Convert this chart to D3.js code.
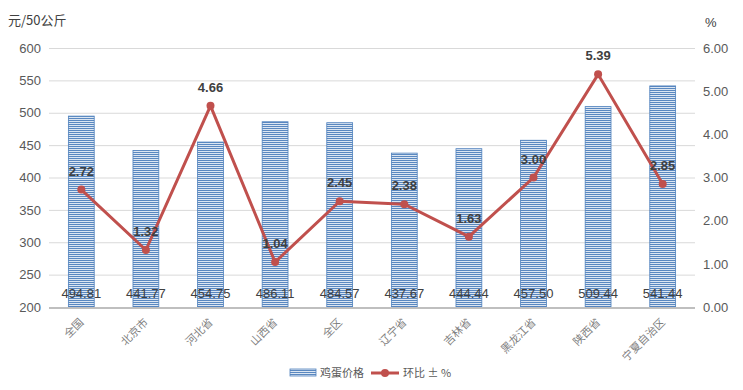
<!DOCTYPE html>
<html><head><meta charset="utf-8">
<script src="https://cdn.jsdelivr.net/npm/d3@7"></script>
<style>body{margin:0;background:#fff;font-family:"Noto Sans CJK SC","DejaVu Sans",sans-serif;}</style>
</head><body><svg id="c" width="743" height="390"></svg>
<script>
const categories = ["全国","北京市","河北省","山西省","全区","辽宁省","吉林省","黑龙江省","陕西省","宁夏自治区"];
const eggPrice = [494.81,441.77,454.75,486.11,484.57,437.67,444.44,457.50,509.44,541.44];
const momChange = [2.72,1.32,4.66,1.04,2.45,2.38,1.63,3.00,5.39,2.85];
const leftTicks = [200,250,300,350,400,450,500,550,600];
const rightTicks = [0,1,2,3,4,5,6];

const svg = d3.select("#c");
const m = {l:49, r:695, t:48, b:307};
const x = d3.scaleBand().domain(categories).range([m.l, m.r]).paddingInner(0.6).paddingOuter(0.3);
const y = d3.scaleLinear().domain([200,600]).range([m.b, m.t]);
const y2 = d3.scaleLinear().domain([0,6]).range([m.b, m.t]);
const font = "'Liberation Sans','DejaVu Sans',sans-serif";
const cjk = "'Noto Sans CJK SC',sans-serif";

const defs = svg.append("defs");
const pat = defs.append("pattern").attr("id","stripe").attr("patternUnits","userSpaceOnUse").attr("width",4).attr("height",2);
pat.append("rect").attr("width",4).attr("height",2).attr("fill","#dce6f2");
pat.append("rect").attr("width",4).attr("height",1).attr("fill","#5a88c0");

// grid
svg.append("g").selectAll("line").data(leftTicks.filter(d=>d>200)).join("line")
  .attr("x1",m.l).attr("x2",m.r).attr("y1",d=>y(d)+0.5).attr("y2",d=>y(d)+0.5)
  .attr("stroke","#d9d9d9").attr("stroke-width",1);

// left axis
const la = svg.append("g").attr("transform",`translate(${m.l-8},0)`)
  .call(d3.axisLeft(y).tickValues(leftTicks).tickSize(0).tickPadding(0));
la.select(".domain").remove();
la.selectAll("text").attr("font-family",font).attr("font-size",13).attr("fill","#595959");

// right axis
const ra = svg.append("g").attr("transform",`translate(${m.r+8},0)`)
  .call(d3.axisRight(y2).tickValues(rightTicks).tickFormat(d3.format(".2f")).tickSize(0).tickPadding(0));
ra.select(".domain").remove();
ra.selectAll("text").attr("font-family",font).attr("font-size",13).attr("fill","#595959");

// bars
svg.append("g").selectAll("rect").data(eggPrice).join("rect")
  .attr("x",(d,i)=>x(categories[i])).attr("width",x.bandwidth())
  .attr("y",d=>y(d)).attr("height",d=>y(200)-y(d))
  .attr("fill","url(#stripe)").attr("stroke","#4f81bd").attr("stroke-width",0.8);

// baseline
svg.append("line").attr("x1",m.l).attr("x2",m.r).attr("y1",m.b+1).attr("y2",m.b+1)
  .attr("stroke","#bfbfbf").attr("stroke-width",2);

// bar labels
svg.append("g").selectAll("text").data(eggPrice).join("text")
  .attr("x",(d,i)=>x(categories[i])+x.bandwidth()/2).attr("y",y(200)-9)
  .attr("text-anchor","middle").attr("font-family",font).attr("font-size",13).attr("fill","#404040")
  .text(d=>d.toFixed(2));

// line
const cx = (i)=>x(categories[i])+x.bandwidth()/2;
svg.append("path").datum(momChange)
  .attr("d",d3.line().x((d,i)=>cx(i)).y(d=>y2(d)))
  .attr("fill","none").attr("stroke","#c0504d").attr("stroke-width",3);
svg.append("g").selectAll("circle").data(momChange).join("circle")
  .attr("cx",(d,i)=>cx(i)).attr("cy",d=>y2(d)).attr("r",4).attr("fill","#c0504d");
svg.append("g").selectAll("text").data(momChange).join("text")
  .attr("x",(d,i)=>cx(i)).attr("y",d=>y2(d)-14)
  .attr("text-anchor","middle").attr("font-family",font).attr("font-size",13).attr("font-weight","bold").attr("fill","#404040")
  .text(d=>d.toFixed(2));

// x labels
svg.append("g").selectAll("text").data(categories).join("text")
  .attr("transform",(d,i)=>`translate(${cx(i)+3},${m.b+16}) rotate(-45)`)
  .attr("text-anchor","end").attr("font-family",cjk).attr("font-size",11).attr("fill","#7f7f7f")
  .text(d=>d);

// axis titles
svg.append("text").attr("x",8).attr("y",25).attr("font-family",cjk).attr("font-size",13).attr("fill","#404040").text("元/50公斤");
svg.append("text").attr("x",705).attr("y",27).attr("font-family",font).attr("font-size",13).attr("fill","#404040").text("%");

// legend
const lg = svg.append("g");
lg.append("rect").attr("x",290).attr("y",369).attr("width",26).attr("height",7).attr("fill","url(#stripe)").attr("stroke","#4f81bd").attr("stroke-width",0.8);
lg.append("text").attr("x",320).attr("y",377).attr("font-family",cjk).attr("font-size",11).attr("fill","#595959").text("鸡蛋价格");
lg.append("line").attr("x1",371).attr("x2",399).attr("y1",373).attr("y2",373).attr("stroke","#c0504d").attr("stroke-width",3);
lg.append("circle").attr("cx",385).attr("cy",373).attr("r",4).attr("fill","#c0504d");
lg.append("text").attr("x",403).attr("y",377).attr("font-family",cjk).attr("font-size",11).attr("fill","#595959").text("环比 ± %");
</script></body></html>
